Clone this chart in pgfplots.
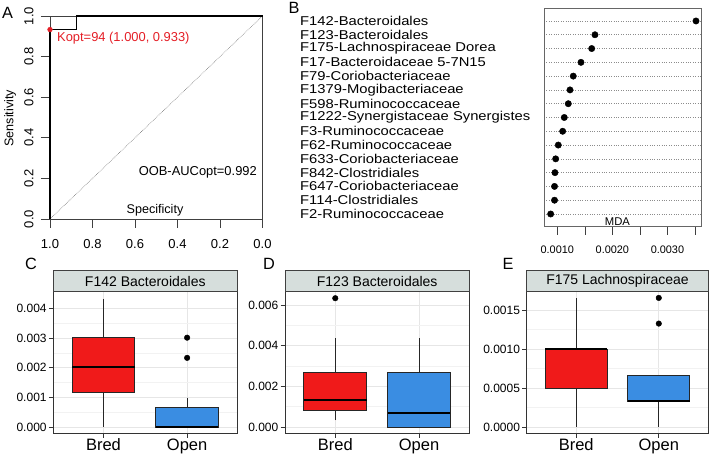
\documentclass[border=0pt]{standalone}
\usepackage{pgfplots}
\pgfplotsset{compat=1.18}
\usepgfplotslibrary{statistics}
\usepackage{fontspec}
\setmainfont{Liberation Sans}
\definecolor{cred}{RGB}{240,26,26}
\definecolor{cblue}{RGB}{58,141,226}
\definecolor{rocred}{RGB}{228,30,38}
\definecolor{strip}{RGB}{214,222,220}
\definecolor{gridmaj}{RGB}{230,230,230}
\definecolor{gridmin}{RGB}{242,242,242}
\newcommand{\fs}[1]{\fontsize{#1}{#1}\selectfont}
\newcommand{\lb}[1]{\scalebox{1.155}[1]{#1}}
\tikzset{lab/.style={anchor=west, inner sep=0pt, xshift=-244pt, font=\fs{12.8}}}
% Panels C-E: values are given in units of 10^-3 (tick labels show the original values)
\pgfplotsset{
  gg/.style={
    anchor=south west, scale only axis, height=141.6pt,
    xmin=0.4, xmax=2.6, xtick={1,2}, xticklabels={Bred,Open},
    tick align=outside, xtick pos=left, ytick pos=left,
    major tick length=4.5pt, minor tick length=0pt,
    minor y tick num=1,
    xmajorgrids, ymajorgrids, yminorgrids,
    major grid style={gridmaj, line width=0.8pt},
    minor grid style={gridmin, line width=0.6pt},
    axis line style={black!80, line width=0.8pt},
    tick style={black!80, line width=0.7pt},
    xticklabel style={font=\fs{16.5}, anchor=base, inner sep=0pt},
    xticklabel shift=13pt,
    yticklabel style={font=\fs{12}, anchor=east, inner sep=0pt},
    yticklabel shift=2pt,
    scaled y ticks=false,
    clip=false,
    boxplot/draw direction=y,
    boxplot/box extend=0.75,
    boxplot/whisker extend=0,
    boxplot/every median/.style={line width=1.8pt, black},
    boxplot/every box/.style={draw=black!85, line width=0.8pt},
    boxplot/every whisker/.style={draw=black!85, line width=0.8pt},
  },
  outl/.style={mark=*, mark size=2.8pt, mark options={black, fill=black}},
}
\begin{document}
\begin{tikzpicture}[x=1pt,y=1pt]
\path[use as bounding box] (0,0) rectangle (709,454);

% ---------------- Panel A: ROC ----------------
\begin{axis}[at={(50pt,235pt)}, anchor=south west, scale only axis,
  width=212.5pt, height=203pt,
  xmin=0, xmax=1, ymin=0, ymax=1, x dir=reverse, clip=false,
  axis line style={black!75, line width=0.6pt},
  tick align=outside, xtick pos=left, ytick pos=left, major tick length=9pt,
  tick style={black!75, line width=0.6pt},
  xtick={1,0.8,0.6,0.4,0.2,0}, xticklabels={1.0,0.8,0.6,0.4,0.2,0.0},
  ytick={0,0.2,0.4,0.6,0.8,1}, yticklabels={0.0,0.2,0.4,0.6,0.8,1.0},
  xticklabel style={font=\fs{13}, anchor=base, inner sep=0pt},
  xticklabel shift=21pt,
  yticklabel style={font=\fs{13}, rotate=90, anchor=south, inner sep=0pt},
  yticklabel shift=7.3pt,
]
\addplot[black!55, densely dotted, line width=0.6pt] coordinates {(1,0) (0,1)};
\addplot[black, line width=1.6pt] coordinates {(1,0) (1,0.933) (0.875,0.933) (0.875,1) (0,1)};
\addplot[only marks, mark=*, mark size=2.4pt, color=rocred] coordinates {(1,0.933)};
\node[rocred, anchor=west, inner sep=0pt, font=\fs{12.9}] at (axis cs:0.967,0.892) {Kopt=94 (1.000, 0.933)};
\node[anchor=east, inner sep=0pt, font=\fs{12.9}] at (axis cs:0.026,0.2315) {OOB-AUCopt=0.992};
\node[inner sep=0pt, font=\fs{12.6}] at (axis cs:0.506,0.044) {Specificity};
\end{axis}
\node[rotate=90, font=\fs{12.6}] at (10,335.7) {Sensitivity};
\node[font=\fs{16.3}] at (7.5,441.5) {A};

% ---------------- Panel B: MDA dotchart ----------------
\begin{axis}[at={(544pt,227.3pt)}, anchor=south west, scale only axis,
  width=157pt, height=218.4pt,
  xmin=0.759, xmax=3.609, ymin=0.079, ymax=15.92, clip=false,
  axis line style={black!60, line width=0.7pt},
  tick align=outside, xtick pos=left, major tick length=8.3pt,
  tick style={black!75, line width=0.6pt},
  xtick={1,1.5,2,2.5,3,3.5},
  xticklabels={0.0010,,0.0020,,0.0030,},
  xticklabel style={font=\fs{10.9}, anchor=base, inner sep=0pt},
  xticklabel shift=19pt,
  ytick={1,2,3,4,5,6,7,8,9,10,11,12,13,14,15}, yticklabels={},
  ytick style={draw=none},
  ymajorgrids, major grid style={black!45, dotted, line width=0.6pt},
]
% MDA values in units of 10^-3
\addplot[only marks, mark=*, mark size=3.2pt, black] table {
x y
3.518 15
1.684 14
1.625 13
1.430 12
1.290 11
1.231 10
1.200 9
1.127 8
1.098 7
1.018 6
0.971 5
0.958 4
0.950 3
0.950 2
0.880 1
};
\node[lab] at (axis cs:0.759,15) {\lb{F142-Bacteroidales}};
\node[lab] at (axis cs:0.759,14) {\lb{F123-Bacteroidales}};
\node[lab] at (axis cs:0.759,13) {\lb{F175-Lachnospiraceae Dorea}};
\node[lab] at (axis cs:0.759,12) {\lb{F17-Bacteroidaceae 5-7N15}};
\node[lab] at (axis cs:0.759,11) {\lb{F79-Coriobacteriaceae}};
\node[lab] at (axis cs:0.759,10) {\lb{F1379-Mogibacteriaceae}};
\node[lab] at (axis cs:0.759,9) {\lb{F598-Ruminococcaceae}};
\node[lab] at (axis cs:0.759,8) {\lb{F1222-Synergistaceae Synergistes}};
\node[lab] at (axis cs:0.759,7) {\lb{F3-Ruminococcaceae}};
\node[lab] at (axis cs:0.759,6) {\lb{F62-Ruminococcaceae}};
\node[lab] at (axis cs:0.759,5) {\lb{F633-Coriobacteriaceae}};
\node[lab] at (axis cs:0.759,4) {\lb{F842-Clostridiales}};
\node[lab] at (axis cs:0.759,3) {\lb{F647-Coriobacteriaceae}};
\node[lab] at (axis cs:0.759,2) {\lb{F114-Clostridiales}};
\node[lab] at (axis cs:0.759,1) {\lb{F2-Ruminococcaceae}};
\node[inner sep=0pt, font=\fs{11.25}] at (axis cs:2.093,0.44) {MDA};
\end{axis}
\node[font=\fs{16.3}] at (294,446) {B};

% ---------------- Panel C ----------------
\begin{axis}[gg, at={(53.3pt,20.7pt)}, width=184pt,
  ymin=-0.212, ymax=4.56,
  ytick={0,1,2,3,4}, yticklabels={0.000,0.001,0.002,0.003,0.004}]
\addplot[fill=cred, boxplot prepared={draw position=1, lower whisker=0, lower quartile=1.17,
  median=2.01, upper quartile=3.01, upper whisker=4.33}] coordinates {};
\addplot[fill=cblue, outl, boxplot prepared={draw position=2, lower whisker=0, lower quartile=0,
  median=0, upper quartile=0.65, upper whisker=0.99}]
  table[row sep=\\, y index=0] {v\\ 3.01\\ 2.33\\};
\end{axis}
\draw[fill=strip, draw=black!75, line width=0.7pt] (53.3,162.3) rectangle (237.3,183.3);
\node[font=\fs{14}] at (145.3,172.8) {F142 Bacteroidales};
\node[font=\fs{16.3}] at (31,190) {C};

% ---------------- Panel D ----------------
\begin{axis}[gg, at={(285pt,20.7pt)}, width=184.3pt,
  ymin=-0.31, ymax=6.65,
  ytick={0,2,4,6}, yticklabels={0.000,0.002,0.004,0.006}]
\addplot[fill=cred, outl, boxplot prepared={draw position=1, lower whisker=0.33, lower quartile=0.82,
  median=1.33, upper quartile=2.66, upper whisker=4.36}]
  table[row sep=\\, y index=0] {v\\ 6.33\\};
\addplot[fill=cblue, boxplot prepared={draw position=2, lower whisker=0, lower quartile=0,
  median=0.67, upper quartile=2.66, upper whisker=4.36}] coordinates {};
\end{axis}
\draw[fill=strip, draw=black!75, line width=0.7pt] (285,162.3) rectangle (469.3,183.3);
\node[font=\fs{14}] at (377.2,172.8) {F123 Bacteroidales};
\node[font=\fs{16.3}] at (269,190) {D};

% ---------------- Panel E ----------------
\begin{axis}[gg, at={(526.7pt,20.7pt)}, width=181.6pt,
  ymin=-0.081, ymax=1.74,
  ytick={0,0.5,1,1.5}, yticklabels={0.0000,0.0005,0.0010,0.0015}]
\addplot[fill=cred, boxplot prepared={draw position=1, lower whisker=0, lower quartile=0.5,
  median=1.0, upper quartile=1.0, upper whisker=1.66}] coordinates {};
\addplot[fill=cblue, outl, boxplot prepared={draw position=2, lower whisker=0, lower quartile=0.33,
  median=0.33, upper quartile=0.66, upper whisker=0.66}]
  table[row sep=\\, y index=0] {v\\ 1.66\\ 1.33\\};
\end{axis}
\draw[fill=strip, draw=black!75, line width=0.7pt] (526.7,162.3) rectangle (708.3,183.3);
\node[font=\fs{14}] at (617.5,172.8) {F175 Lachnospiraceae};
\node[font=\fs{16.3}] at (508,190) {E};
\end{tikzpicture}
\end{document}
